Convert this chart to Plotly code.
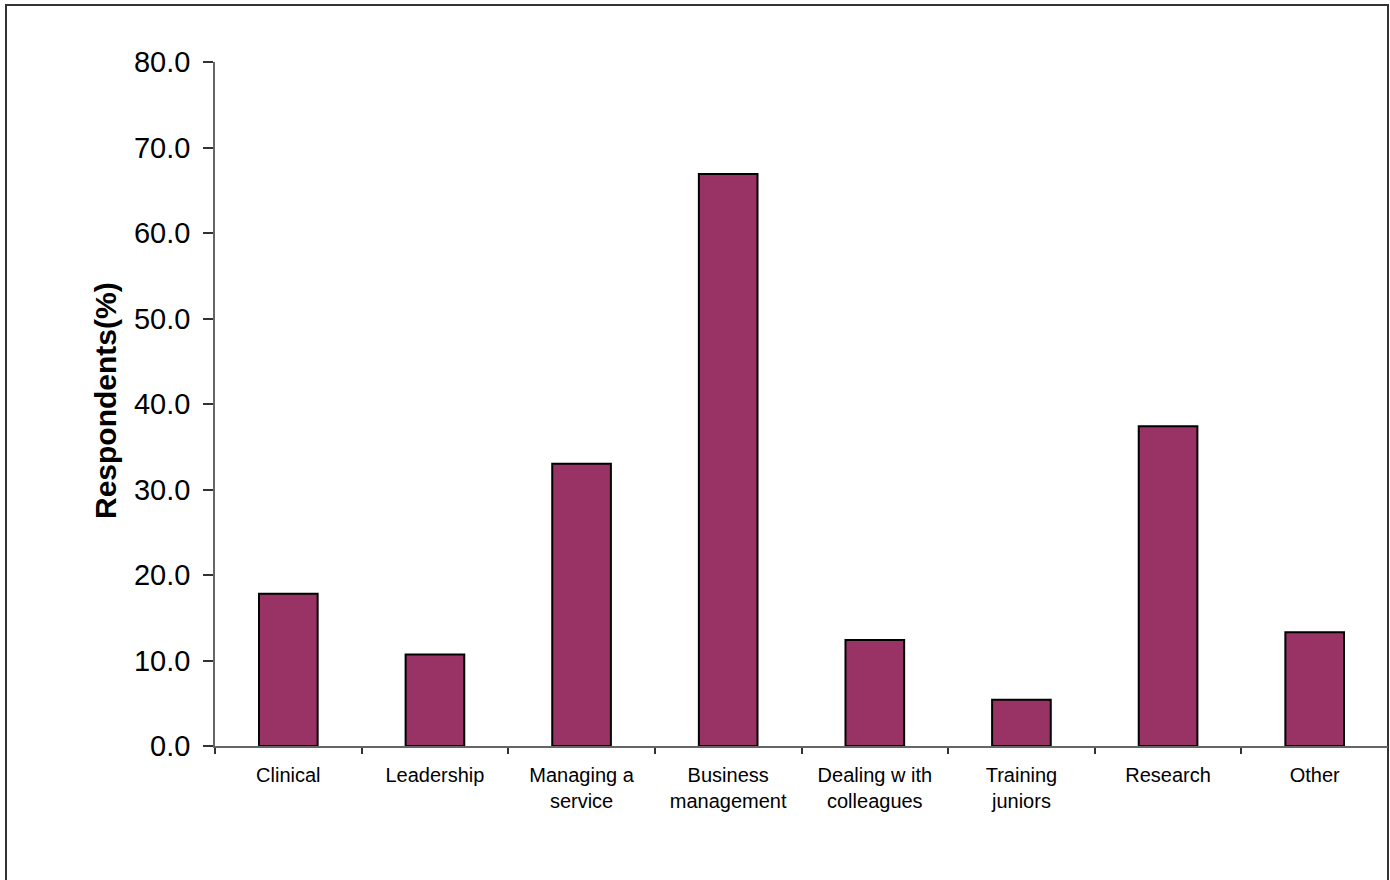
import plotly.graph_objects as go

# Survey: areas where respondents wanted further training
categories = [
    "Clinical",
    "Leadership",
    "Managing a<br>service",
    "Business<br>management",
    "Dealing w ith<br>colleagues",
    "Training<br>juniors",
    "Research",
    "Other",
]
respondents_pct = [17.8, 10.7, 33.0, 66.9, 12.4, 5.4, 37.4, 13.3]

y_ticks = [0, 10, 20, 30, 40, 50, 60, 70, 80]

W, H = 1390, 880
M_L, M_R, M_T, M_B = 215, 2, 62, 134
plot_w = W - M_L - M_R
plot_h = H - M_T - M_B

fig = go.Figure(
    go.Bar(
        x=categories,
        y=respondents_pct,
        marker=dict(color="#993366", line=dict(color="#000000", width=2)),
        width=0.4,
    )
)

# outer chart-area frame, expressed in paper coordinates of the plot box
def px_to_paper_x(px):
    return (px - M_L) / plot_w


def px_to_paper_y(py):
    return (H - M_B - py) / plot_h


fig.add_shape(
    type="rect",
    xref="paper",
    yref="paper",
    x0=px_to_paper_x(6),
    x1=px_to_paper_x(1388),
    y0=px_to_paper_y(890),
    y1=px_to_paper_y(5),
    line=dict(color="#333333", width=2),
    fillcolor="rgba(0,0,0,0)",
    layer="below",
)

fig.add_annotation(
    text="<b>Respondents(%)</b>",
    xref="paper",
    yref="paper",
    x=px_to_paper_x(105),
    y=px_to_paper_y(401),
    textangle=-90,
    showarrow=False,
    xanchor="center",
    yanchor="middle",
    font=dict(family="Liberation Sans, Arial, sans-serif", size=30, color="#000000"),
)

fig.update_layout(
    width=W,
    height=H,
    margin=dict(l=M_L, r=M_R, t=M_T, b=M_B, pad=0),
    paper_bgcolor="#ffffff",
    plot_bgcolor="#ffffff",
    showlegend=False,
    font=dict(family="Liberation Sans, Arial, sans-serif", color="#000000"),
    xaxis=dict(
        showline=True,
        linecolor="#666666",
        linewidth=1.5,
        ticks="outside",
        tickson="boundaries",
        ticklen=6,
        tickcolor="#333333",
        tickwidth=1.5,
        ticklabelstandoff=10,
        showgrid=False,
        tickfont=dict(size=20, color="#000000"),
        range=[-0.5, len(categories) - 0.5],
        fixedrange=True,
    ),
    yaxis=dict(
        range=[0, 80],
        tickvals=y_ticks,
        tickformat=".1f",
        showline=True,
        linecolor="#666666",
        linewidth=1.5,
        ticks="outside",
        ticklen=10,
        tickcolor="#333333",
        tickwidth=1.5,
        ticklabelstandoff=7,
        showgrid=False,
        zeroline=False,
        tickfont=dict(size=29, color="#000000"),
        fixedrange=True,
    ),
)

fig.write_html("out.html")
